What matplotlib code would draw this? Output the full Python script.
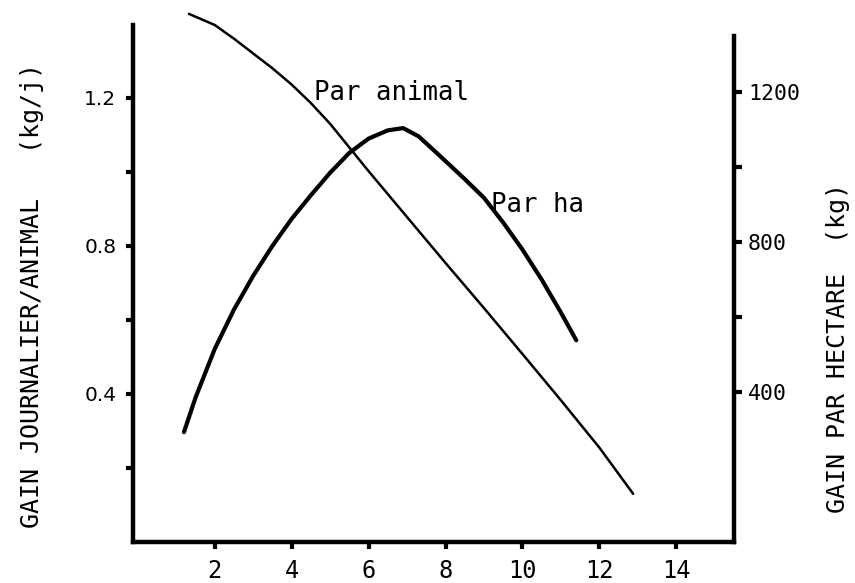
import matplotlib
matplotlib.use("Agg")
import matplotlib.pyplot as plt

# gain par animal (kg/j), axe de gauche
animal_x = [1.33, 2.0, 2.5, 3.0, 3.5, 4.0, 4.5, 5.0, 5.5, 6.0, 7.0, 8.0, 9.0, 10.0, 11.0, 12.0, 12.88]
animal_y = [1.427, 1.397, 1.360, 1.320, 1.280, 1.236, 1.186, 1.130, 1.066, 1.002, 0.878, 0.754, 0.632, 0.508, 0.383, 0.255, 0.13]

# gain par hectare (kg), axe de droite
ha_x = [1.2, 1.5, 2.0, 2.5, 3.0, 3.5, 4.0, 4.5, 5.0, 5.5, 6.0, 6.5, 6.9, 7.3, 7.8, 8.5, 9.0, 9.5, 10.0, 10.5, 11.0, 11.4]
ha_y = [293, 385, 515, 620, 710, 790, 862, 925, 985, 1038, 1076, 1098, 1104, 1082, 1035, 968, 918, 852, 780, 700, 612, 538]

x_ticks = [2, 4, 6, 8, 10, 12, 14]
left_ticks = [0.2, 0.4, 0.6, 0.8, 1.0, 1.2]
left_labels = ["", "0.4", "", "0.8", "", "1.2"]
right_ticks = [400, 600, 800, 1000, 1200]
right_labels = ["400", "", "800", "", "1200"]

MONO = "DejaVu Sans Mono"

fig = plt.figure(figsize=(8.55, 5.83), dpi=100)
ax = fig.add_axes([133 / 855, 41 / 583, 601 / 855, 517 / 583])
ax2 = ax.twinx()

ax.plot(animal_x, animal_y, color="black", lw=1.8, clip_on=False,
        solid_capstyle="round", solid_joinstyle="round")
ax2.plot(ha_x, ha_y, color="black", lw=3.0, clip_on=False,
         solid_capstyle="round", solid_joinstyle="round")

ax.set_xlim(-0.125, 15.5)
ax.set_ylim(0, 1.397)
ax2.set_ylim(0, 1379)

for s in ["top", "right"]:
    ax.spines[s].set_visible(False)
for s in ["top", "left", "bottom"]:
    ax2.spines[s].set_visible(False)
for sp in [ax.spines["left"], ax.spines["bottom"], ax2.spines["right"]]:
    sp.set_linewidth(3.2)
    sp.set_capstyle("projecting")
ax2.spines["right"].set_bounds(0, 1350)

ax.set_xticks(x_ticks)
ax.set_xticklabels([str(t) for t in x_ticks], fontfamily=MONO, fontsize=17)
ax.set_yticks(left_ticks)
ax.set_yticklabels(left_labels, fontfamily="DejaVu Sans", fontsize=14.5)
ax2.set_yticks(right_ticks)
ax2.set_yticklabels(right_labels, fontfamily=MONO, fontsize=15.5)

ax.tick_params(axis="x", direction="out", length=5, width=3, pad=7)
ax.tick_params(axis="y", direction="out", length=5, width=3, pad=7)
ax2.tick_params(axis="y", direction="out", length=6, width=3, pad=4)

ax.text(4.59, 1.213, "Par animal", fontfamily=MONO, fontsize=18.5, ha="left", va="center")
ax.text(9.18, 0.911, "Par ha", fontfamily=MONO, fontsize=18.5, ha="left", va="center")

fig.text(32 / 855, 1 - 295 / 583, "GAIN JOURNALIER/ANIMAL   (kg/j)", rotation=90,
         fontfamily=MONO, fontsize=18, ha="center", va="center")
fig.text(838 / 855, 1 - 348 / 583, "GAIN PAR HECTARE  (kg)", rotation=90,
         fontfamily=MONO, fontsize=18, ha="center", va="center")

fig.savefig("out.png", dpi=100)
